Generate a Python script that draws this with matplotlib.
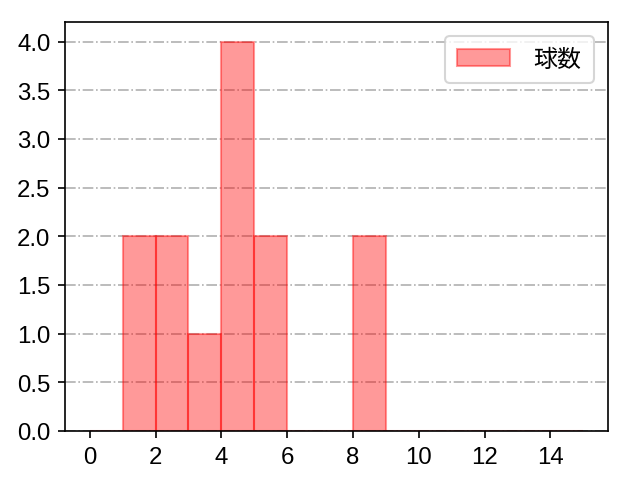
import matplotlib
matplotlib.use("Agg")
import matplotlib.pyplot as plt
import numpy as np

plt.rcParams['font.family'] = ['Liberation Sans', 'Noto Sans CJK JP', 'DejaVu Sans']
plt.rcParams['font.size'] = 11.5

bin_edges = list(range(0, 16))
counts = [0, 2, 2, 1, 4, 2, 0, 0, 2, 0, 0, 0, 0, 0, 0]
yticks = [0.0, 0.5, 1.0, 1.5, 2.0, 2.5, 3.0, 3.5, 4.0]
label = "球数"

fig, ax = plt.subplots(figsize=(6.4 / 1.5, 4.8 / 1.5), dpi=150)
ax.hist(bin_edges[:-1], bins=bin_edges, weights=counts, color='red', alpha=0.4,
        edgecolor='red', label=label)
ax.set_xticks(range(0, 16, 2))
ax.set_yticks(yticks)
ax.set_yticklabels([f"{v:.1f}" for v in yticks])
ax.grid(axis='y', linestyle='-.', color='#b0b0b0')
ax.set_axisbelow(True)
ax.legend(loc='upper right', handlelength=2.2, handletextpad=1.0, borderpad=0.5,
          borderaxespad=0.6)
fig.subplots_adjust(left=0.1016, right=0.95, top=0.952, bottom=0.1)
fig.savefig("out.png")
